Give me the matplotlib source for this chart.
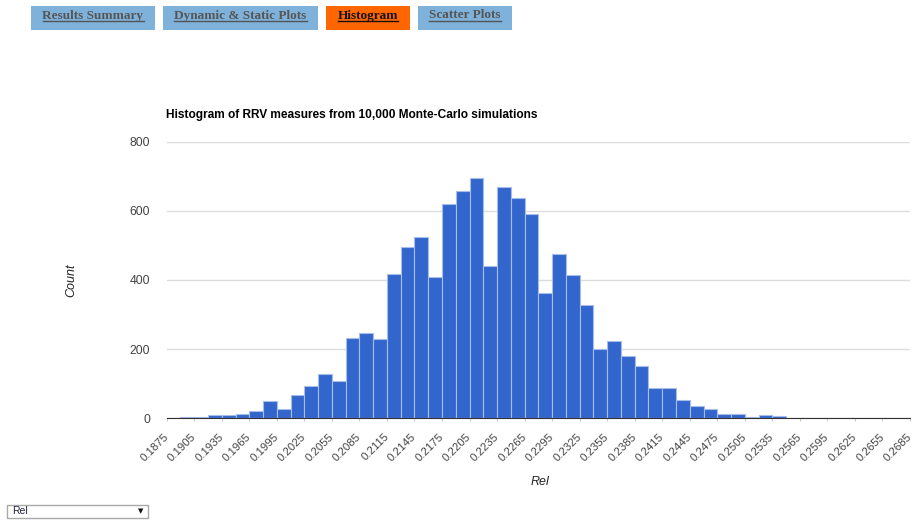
import matplotlib
matplotlib.use("Agg")
import matplotlib.pyplot as plt
import numpy as np
from matplotlib.patches import Rectangle

# Histogram data: 54 bins of width 0.0015 starting at 0.1875
bin_start = 0.1875
bin_width = 0.0015
counts = [0, 4, 4, 9, 9, 13, 20, 51, 27, 67,
          93, 128, 109, 232, 246, 230, 417, 495, 523, 408,
          619, 656, 696, 440, 670, 636, 590, 362, 476, 414,
          327, 200, 225, 180, 150, 87, 87, 53, 35, 27,
          13, 13, 4, 9, 6, 0, 0, 0, 0, 0,
          0, 0, 0, 0]
tabs = ["Results Summary", "Dynamic & Static Plots", "Histogram", "Scatter Plots"]
active_tab = "Histogram"
y_ticks = [0, 200, 400, 600, 800]

W, H = 913, 520
plt.rcParams['font.family'] = ['Liberation Sans', 'DejaVu Sans']
fig = plt.figure(figsize=(W / 100, H / 100), dpi=100)


def fx(px):
    return px / W


def fy(py):
    return 1 - py / H


# tab buttons at the top
tab_boxes = [(31, 155), (163, 318), (326, 410), (418, 512)]
for name, (x0, x1) in zip(tabs, tab_boxes):
    col = '#ff6600' if name == active_tab else '#7fb2da'
    fig.patches.append(Rectangle((fx(x0), fy(30)), fx(x1 - x0), 24 / H,
                                 transform=fig.transFigure, facecolor=col,
                                 edgecolor='none'))
    fig.text(fx((x0 + x1) / 2), fy(15.5), name, ha='center', va='center',
             family='Liberation Serif', weight='bold', fontsize=9.5,
             color='#111111' if name == active_tab else '#555555')

# underline the tab labels
renderer = fig.canvas.get_renderer()
for t in list(fig.texts):
    bb = t.get_window_extent(renderer)
    fig.add_artist(plt.Line2D([bb.x0 / W, bb.x1 / W], [fy(21), fy(21)],
                              transform=fig.transFigure, lw=1,
                              color=t.get_color()))

ax = fig.add_axes([fx(166.7), fy(418.3), fx(910 - 166.7), (418.3 - 141.7) / H])
edges = bin_start + bin_width * np.arange(len(counts) + 1)
ax.bar(edges[:-1], counts, width=bin_width, align='edge', color='#3366cc',
       edgecolor='#a6bcea', linewidth=0.8, zorder=2)

ax.set_xlim(edges[0], edges[-1])
ax.set_ylim(0, 800)
ax.set_yticks(y_ticks)
ax.set_xticks(edges[::2])
ax.set_xticklabels([f'{v:.4f}' for v in edges[::2]], rotation=45, ha='right',
                   va='center', rotation_mode='anchor')
ax.tick_params(axis='x', length=2, color='#cccccc', pad=10, labelsize=8.2,
               labelcolor='#444444')
ax.tick_params(axis='y', length=0, pad=12, labelsize=8.8, labelcolor='#444444')
ax.grid(axis='y', color='#dddddd', linewidth=1, zorder=0)
ax.set_axisbelow(True)
for s in ['top', 'right', 'left']:
    ax.spines[s].set_visible(False)
ax.spines['bottom'].set_color('#333333')
ax.spines['bottom'].set_zorder(3)

fig.text(fx(166), fy(115), 'Histogram of RRV measures from 10,000 Monte-Carlo simulations',
         ha='left', va='center', weight='bold', fontsize=8.6, color='#000000')
fig.text(fx(71), fy(280), 'Count', rotation=90, ha='center', va='center',
         style='italic', fontsize=9, color='#222222')
fig.text(fx(540), fy(482), 'Rel', ha='center', va='center',
         style='italic', fontsize=9, color='#222222')

# dropdown selector
fig.patches.append(Rectangle((fx(7), fy(518)), fx(141), 13 / H,
                             transform=fig.transFigure, facecolor='white',
                             edgecolor='#a9a9a9', linewidth=1))
fig.text(fx(12), fy(511.5), 'Rel', ha='left', va='center', fontsize=7.5,
         color='#222244')
fig.text(fx(141), fy(511.5), '▼', ha='center', va='center', fontsize=5,
         color='#111111', family=['DejaVu Sans'])

fig.savefig('out.png', dpi=100)
